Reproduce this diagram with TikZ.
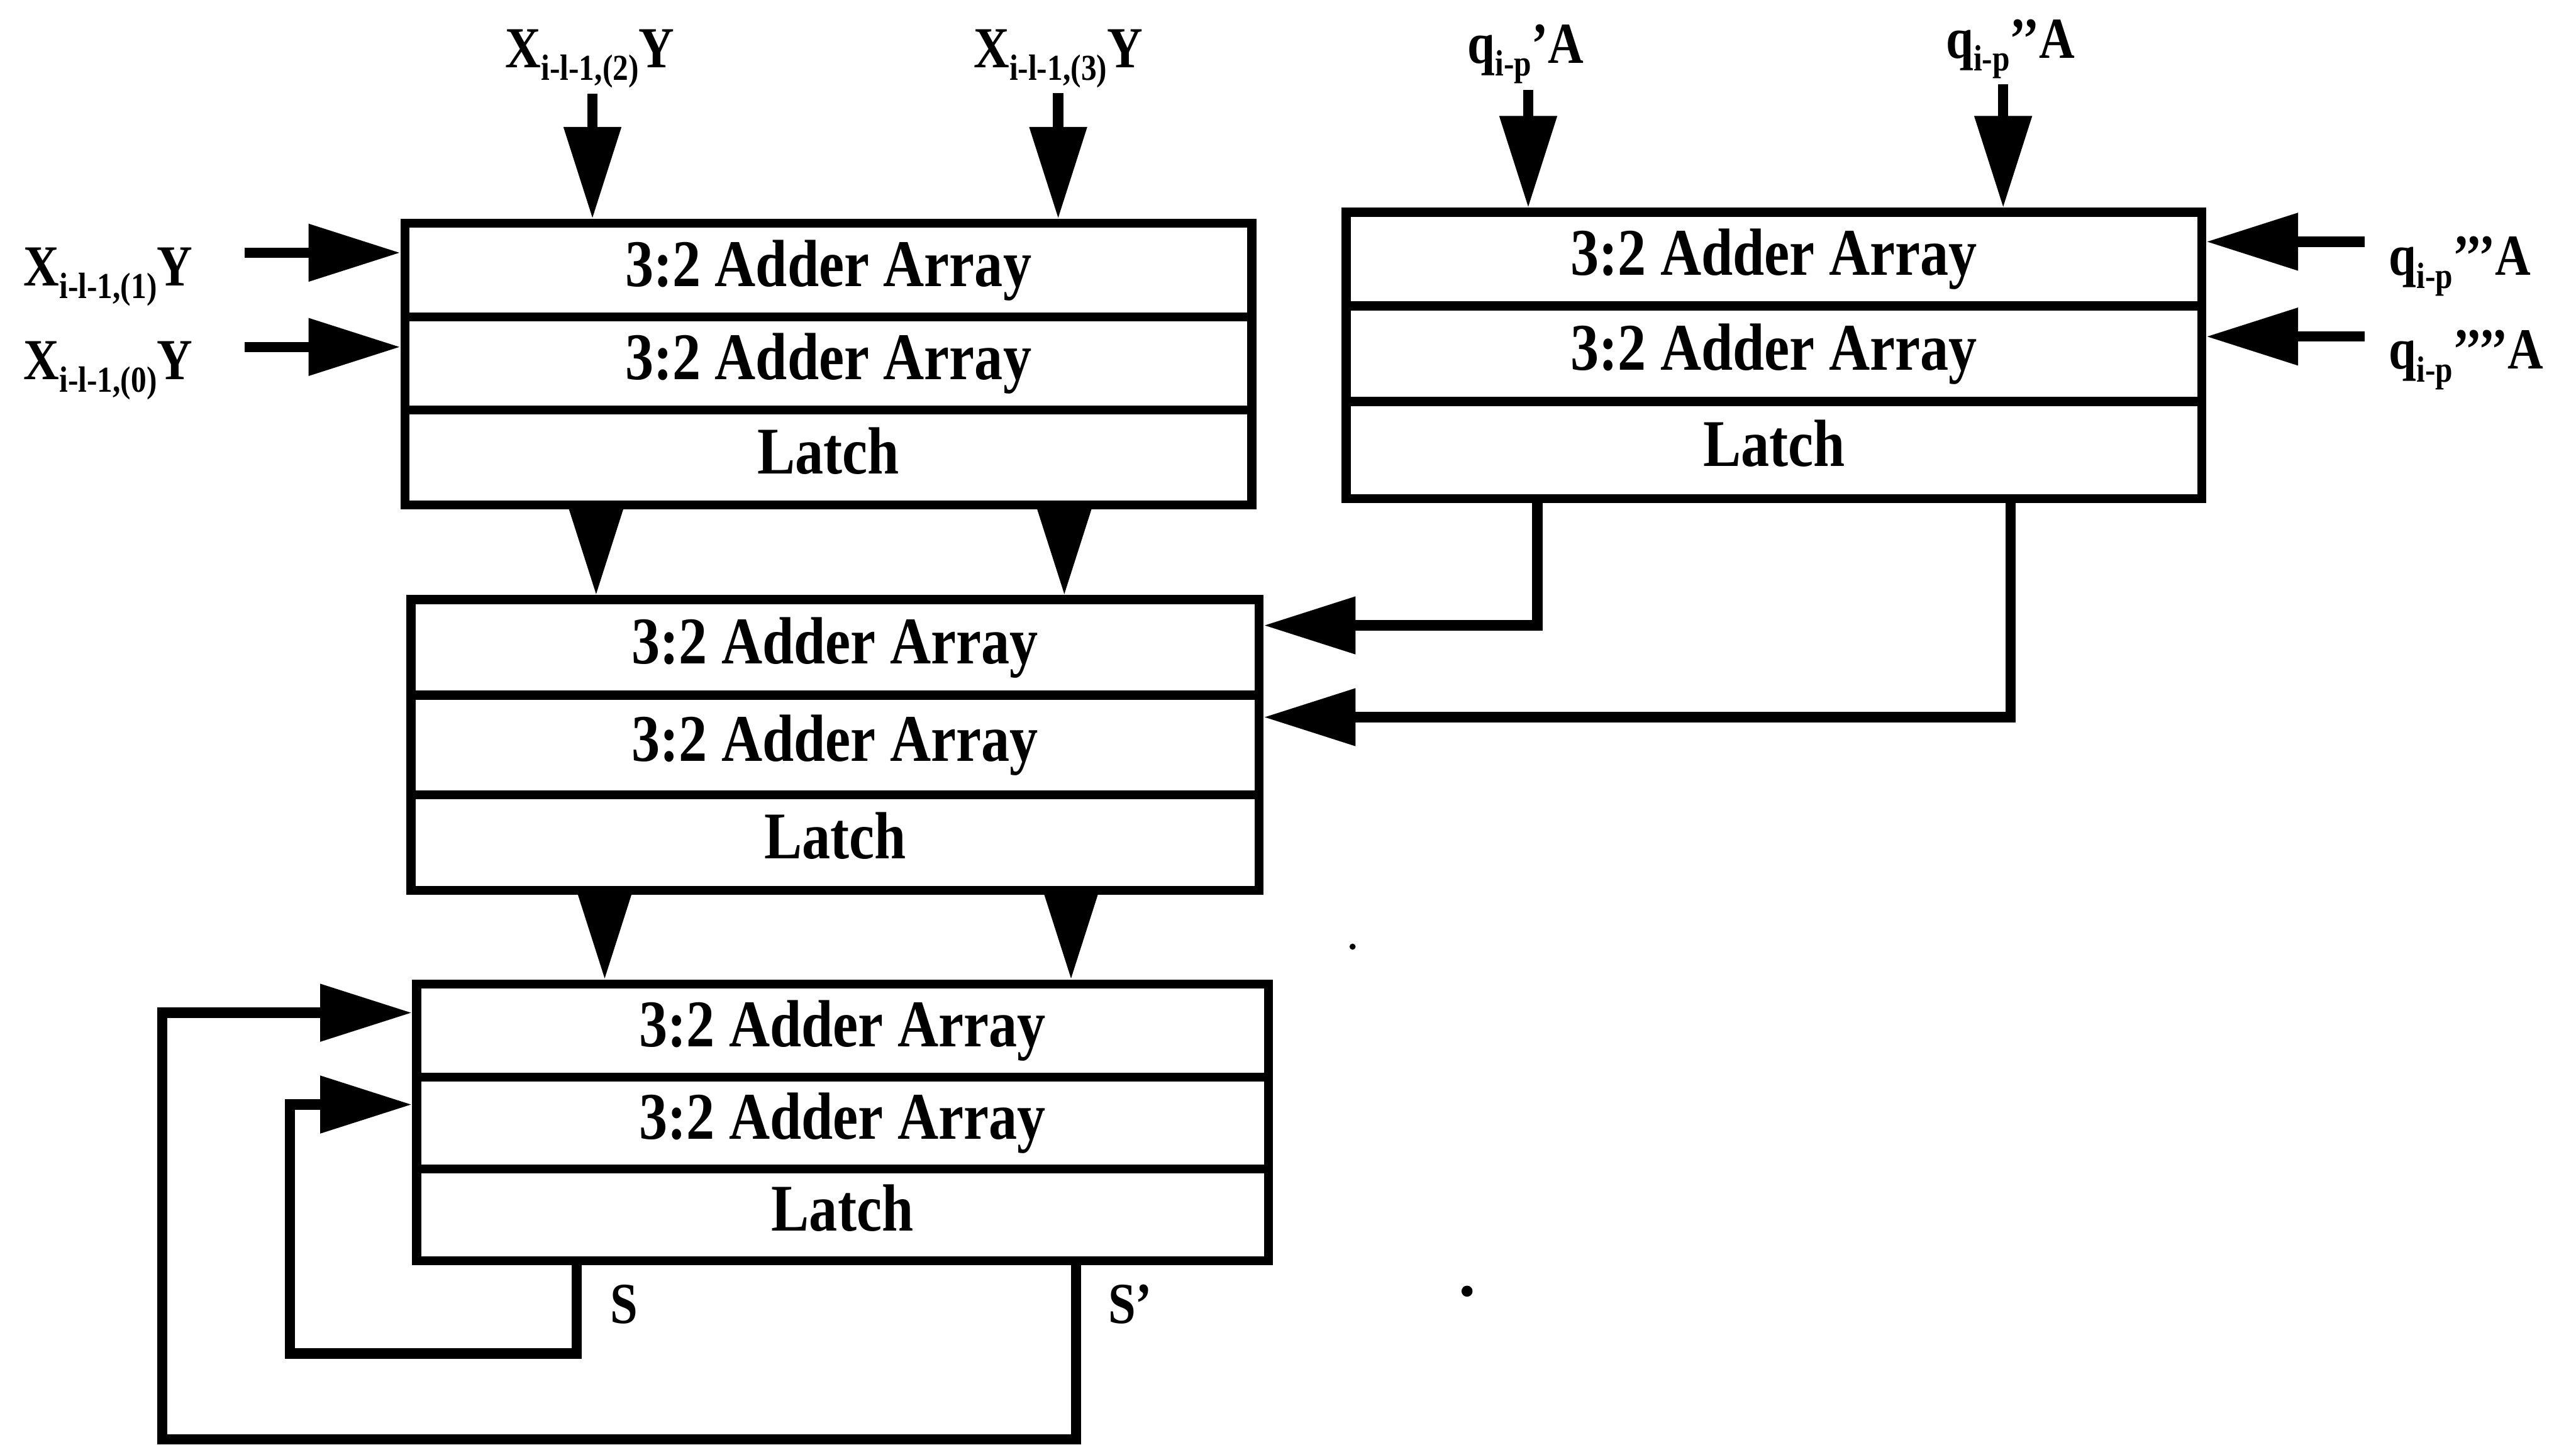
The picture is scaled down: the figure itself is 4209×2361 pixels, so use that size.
\documentclass[tikz,border=0pt]{standalone}
\usepackage{fontspec}
\setmainfont{Liberation Serif}[FakeStretch=0.85]
\usetikzlibrary{arrows.meta}
\newcommand{\sbx}[1]{\raisebox{-6pt}{\fontsize{17}{20}\selectfont #1}}
\begin{document}
\begin{tikzpicture}[x=0.01cm,y=-0.01cm,
  row/.style={draw, line width=4.2pt, inner sep=0pt, text height=0.75cm, text depth=0.22cm,
    font=\bfseries\fontsize{31}{36}\selectfont},
  lbl/.style={inner sep=0pt, font=\bfseries\fontsize{27}{30}\selectfont},
  arr/.style={line width=4.8pt, line join=miter, -{Triangle[length=1.5cm,width=0.9cm]}}]
\useasboundingbox (0,0) rectangle (4209,2361);
% Box 1
\node[row, minimum width=13.83cm, minimum height=1.53cm] (b1a) at (1353.5,441.5) {3:2 Adder Array};
\node[row, minimum width=13.83cm, minimum height=1.52cm] (b1b) at (1353.5,594) {3:2 Adder Array};
\node[row, minimum width=13.83cm, minimum height=1.55cm] (b1c) at (1353.5,747.5) {Latch};
% Box 2
\node[row, minimum width=13.97cm, minimum height=1.53cm] (b2a) at (2898.5,423.5) {3:2 Adder Array};
\node[row, minimum width=13.97cm, minimum height=1.56cm] (b2b) at (2898.5,578) {3:2 Adder Array};
\node[row, minimum width=13.97cm, minimum height=1.59cm] (b2c) at (2898.5,735.5) {Latch};
% Box 3
\node[row, minimum width=13.85cm, minimum height=1.56cm] (b3a) at (1364.5,1058) {3:2 Adder Array};
\node[row, minimum width=13.85cm, minimum height=1.63cm] (b3b) at (1364.5,1217.5) {3:2 Adder Array};
\node[row, minimum width=13.85cm, minimum height=1.56cm] (b3c) at (1364.5,1377) {Latch};
% Box 4
\node[row, minimum width=13.91cm, minimum height=1.52cm] (b4a) at (1376.5,1684) {3:2 Adder Array};
\node[row, minimum width=13.91cm, minimum height=1.50cm] (b4b) at (1376.5,1835) {3:2 Adder Array};
\node[row, minimum width=13.91cm, minimum height=1.50cm] (b4c) at (1376.5,1985) {Latch};
% Labels
\node[lbl, anchor=base] (lt1) at (964,110) {X\sbx{i-l-1,(2)}Y};
\node[lbl, anchor=base] (lt2) at (1729,110) {X\sbx{i-l-1,(3)}Y};
\node[lbl, anchor=base] (lq1) at (2493,103) {q\sbx{i-p}’A};
\node[lbl, anchor=base] (lq2) at (3285,95) {q\sbx{i-p}’’A};
\node[lbl, anchor=base west] (ll1) at (38,467) {X\sbx{i-l-1,(1)}Y};
\node[lbl, anchor=base west] (ll2) at (38,620) {X\sbx{i-l-1,(0)}Y};
\node[lbl, anchor=base west] (lr1) at (3903,450) {q\sbx{i-p}’’’A};
\node[lbl, anchor=base west] (lr2) at (3903,603) {q\sbx{i-p}’’’’A};
\node[lbl, anchor=base west] (ls1) at (997,2163) {S};
\node[lbl, anchor=base west] (ls2) at (1810,2163) {S’};
% input arrows
\coordinate (t1) at (968,153);
\coordinate (t2) at (1729,152);
\coordinate (t3) at (2497,147);
\coordinate (t4) at (3273,138);
\draw[arr] (t1) -- (t1 |- b1a.north);
\draw[arr] (t2) -- (t2 |- b1a.north);
\draw[arr] (t3) -- (t3 |- b2a.north);
\draw[arr] (t4) -- (t4 |- b2a.north);
\coordinate (i1) at (400,413);
\coordinate (i2) at (400,567);
\draw[arr] (i1) -- (i1 -| b1a.west);
\draw[arr] (i2) -- (i2 -| b1b.west);
\coordinate (r1) at (3864,395);
\coordinate (r2) at (3864,550);
\draw[arr] (r1) -- (r1 -| b2a.east);
\draw[arr] (r2) -- (r2 -| b2b.east);
% box to box
\coordinate (m1) at (974,0);
\coordinate (m2) at (1739,0);
\coordinate (m3) at (988,0);
\coordinate (m4) at (1750,0);
\draw[arr] (b1c.south -| m1) -- (b3a.north -| m1);
\draw[arr] (b1c.south -| m2) -- (b3a.north -| m2);
\draw[arr] (b3c.south -| m3) -- (b4a.north -| m3);
\draw[arr] (b3c.south -| m4) -- (b4a.north -| m4);
% box 2 outputs
\coordinate (o1) at (2512,1022);
\coordinate (o2) at (3285,1172);
\draw[arr] (b2c.south -| o1) -- (o1) -- (o1 -| b3a.east);
\draw[arr] (b2c.south -| o2) -- (o2) -- (o2 -| b3b.east);
% feedback
\coordinate (s1) at (942,2212);
\coordinate (f2) at (474,1805);
\coordinate (s2) at (1758,2352);
\coordinate (f1) at (265,1655);
\draw[arr] (b4c.south -| s1) -- (s1) -| (f2) -- (f2 -| b4b.west);
\draw[arr] (b4c.south -| s2) -- (s2) -| (f1) -- (f1 -| b4a.west);
% specks
\fill (2210,1547) circle[radius=0.05cm];
\fill (2397,2110) circle[radius=0.09cm];
\end{tikzpicture}
\end{document}
